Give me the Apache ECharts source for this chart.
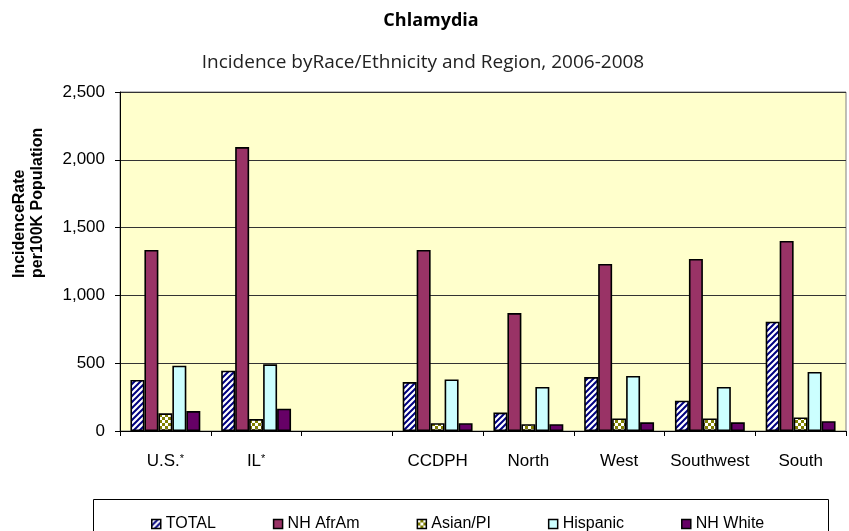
<!DOCTYPE html>
<html>
<head>
<meta charset="utf-8">
<script src="https://cdn.jsdelivr.net/npm/echarts@6/dist/echarts.min.js"></script>
<style>
html,body{margin:0;padding:0;background:#fff;}
#chart{width:849px;height:531px;}
</style>
</head>
<body>
<div id="chart"></div>
<script>
// ---- data ----
const categories = ['U.S.*', 'IL*', '', 'CCDPH', 'North', 'West', 'Southwest', 'South'];
const seriesNames = ['TOTAL', 'NH AfrAm', 'Asian/PI', 'Hispanic', 'NH White'];
const totalVals    = [376, 445, null, 361, 136, 398, 224, 806];
const afrAmVals    = [1335, 2094, null, 1335, 870, 1232, 1269, 1401];
const asianVals    = [130, 88, null, 57, 50, 92, 92, 100];
const hispanicVals = [482, 492, null, 380, 325, 406, 325, 435];
const whiteVals    = [147, 165, null, 57, 50, 64, 64, 72];
const yMin = 0, yMax = 2500, yStep = 500;
const titleText = 'Chlamydia';
const subtitleText = 'Incidence byRace/Ethnicity and Region, 2006-2008';
const yAxisTitle = 'IncidenceRate\nper100K Population';

// ---- patterns ----
function stripePattern() {
  const s = 6, c = document.createElement('canvas');
  c.width = s; c.height = s;
  const g = c.getContext('2d');
  g.fillStyle = '#ffffff'; g.fillRect(0, 0, s, s);
  g.strokeStyle = '#000080'; g.lineWidth = 2;
  g.beginPath();
  g.moveTo(-1, s + 1); g.lineTo(s + 1, -1);
  g.moveTo(-s / 2 - 1, s / 2 + 1); g.lineTo(s / 2 + 1, -s / 2 - 1);
  g.moveTo(s / 2 - 1, s * 1.5 + 1); g.lineTo(s * 1.5 + 1, s / 2 - 1);
  g.stroke();
  return { image: c, repeat: 'repeat' };
}
function checkerPattern() {
  const s = 6, c = document.createElement('canvas');
  c.width = s; c.height = s;
  const g = c.getContext('2d');
  g.fillStyle = '#808000'; g.fillRect(0, 0, s, s);
  g.fillStyle = '#ffffff';
  g.fillRect(0, 0, 3, 3); g.fillRect(3, 3, 3, 3);
  return { image: c, repeat: 'repeat' };
}

const fills = [stripePattern(), '#993366', checkerPattern(), '#CCFFFF', '#660066'];
const valueSets = [totalVals, afrAmVals, asianVals, hispanicVals, whiteVals];
const FONT = "'Liberation Sans', Arial, sans-serif";

const chart = echarts.init(document.getElementById('chart'), null, { renderer: 'canvas' });

const series = seriesNames.map((name, i) => ({
  name: name,
  type: 'bar',
  data: valueSets[i],
  barGap: '0%',
  barCategoryGap: '23%',
  itemStyle: { color: fills[i], borderColor: '#000', borderWidth: 1.6 },
  emphasis: { disabled: true },
  animation: false
}));

chart.setOption({
  animation: false,
  title: [
    { text: titleText, left: 426, top: 7, textAlign: 'center',
      textStyle: { fontFamily: "'Open Sans', sans-serif", fontWeight: 'bold', fontSize: 18, color: '#000' } },
    { text: subtitleText, left: 418, top: 48, textAlign: 'center',
      textStyle: { fontFamily: "'Open Sans', sans-serif", fontWeight: 'normal', fontSize: 19, color: '#222' } }
  ],
  graphic: [
    { type: 'text', x: 29, y: 278, rotation: Math.PI / 2,
      style: { text: yAxisTitle, font: "bold 16px " + FONT, fill: '#000', align: 'left', verticalAlign: 'middle', lineHeight: 18 } },
    { type: 'rect', shape: { x: 93.5, y: 499.5, width: 735, height: 40 },
      style: { fill: '#fff', stroke: '#000', lineWidth: 1 }, z: -1 }
  ],
  grid: { left: 120, right: 3, top: 92, bottom: 100, show: true, backgroundColor: '#FFFFCC', borderColor: '#808080', borderWidth: 1 },
  legend: {
    data: seriesNames,
    left: 146, top: 511,
    itemWidth: 9, itemHeight: 9, itemGap: 57, itemTextGap: 3,
    icon: 'rect',
    itemStyle: { borderColor: '#000', borderWidth: 1.5 },
    textStyle: { fontFamily: FONT, fontSize: 16, color: '#000' },
    selectedMode: false
  },
  xAxis: {
    type: 'category',
    data: categories,
    axisLine: { lineStyle: { color: '#000', width: 1 } },
    axisTick: { show: true, alignWithLabel: false, length: 5, lineStyle: { color: '#000' } },
    axisLabel: {
      interval: 0, margin: 22, color: '#000', fontFamily: FONT, fontSize: 17,
      formatter: v => v.replace('*', '{s|*}'),
      rich: { s: { fontSize: 11, fontFamily: FONT, color: '#000', verticalAlign: 'top', padding: [0, 0, 6, 0] } }
    },
    splitLine: { show: false }
  },
  yAxis: {
    type: 'value', min: yMin, max: yMax, interval: yStep,
    axisLine: { show: true, lineStyle: { color: '#000', width: 1 } },
    axisTick: { show: true, length: 5, lineStyle: { color: '#000' } },
    axisLabel: { color: '#000', fontFamily: FONT, fontSize: 17, margin: 15,
      formatter: v => v.toLocaleString('en-US') },
    splitLine: { show: true, lineStyle: { color: '#333333', width: 1 } }
  },
  series: series
});
</script>
</body>
</html>
